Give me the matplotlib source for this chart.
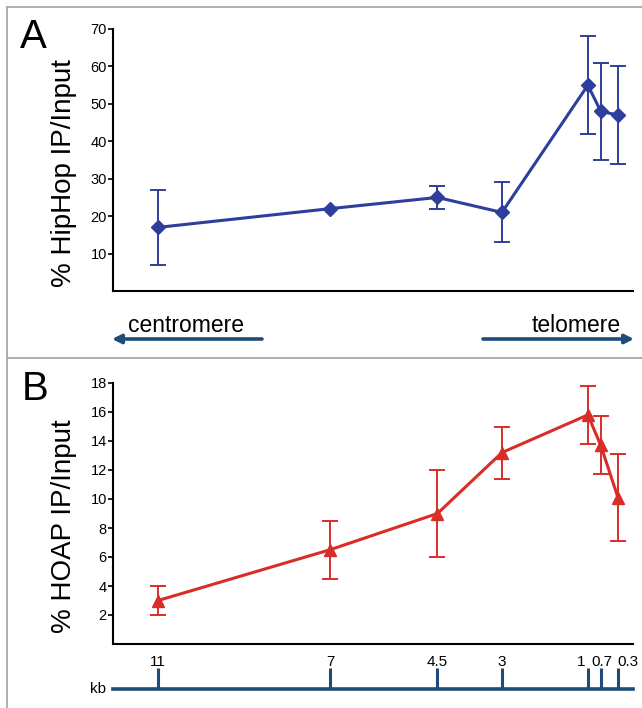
import numpy as np
import matplotlib
import matplotlib.pyplot as plt
from matplotlib.lines import Line2D
from matplotlib.patches import FancyArrowPatch

matplotlib.use("Agg")
plt.rcParams["font.family"] = ["Liberation Sans", "DejaVu Sans"]

# distance from telomere end (kb)
kb = [11, 7, 4.5, 3, 1, 0.7, 0.3]
kb_labels = ["11", "7", "4.5", "3", "1", "0.7", "0.3"]

# panel A: HipHop ChIP
hiphop = [17, 22, 25, 21, 55, 48, 47]
hiphop_err = [10, np.nan, 3, 8, 13, 13, 13]
hiphop_ticks = [10, 20, 30, 40, 50, 60, 70]

# panel B: HOAP ChIP
hoap = [3, 6.5, 9, 13.2, 15.8, 13.7, 10.1]
hoap_err = [1, 2, 3, 1.8, 2, 2, 3]
hoap_ticks = [2, 4, 6, 8, 10, 12, 14, 16, 18]

W, H = 642, 708
BLUE = "#2e3e9c"
RED = "#d92d28"
NAVY = "#1d4c78"
FRAME = "#a8a8a8"


def px(x0, y0, x1, y1):
    """pixel box (top-left origin) -> figure rect"""
    return [x0 / W, 1 - y1 / H, (x1 - x0) / W, (y1 - y0) / H]


def style_axes(ax, ymax, ticks):
    ax.set_xlim(12.05, -0.05)
    ax.set_ylim(0, ymax)
    ax.set_yticks(ticks)
    ax.set_xticks([])
    for s in ("top", "right"):
        ax.spines[s].set_visible(False)
    for s in ("left", "bottom"):
        ax.spines[s].set_linewidth(1.5)
    ax.tick_params(axis="y", length=3.5, width=1.2, labelsize=10.5, pad=1)
    ax.patch.set_alpha(0)


fig = plt.figure(figsize=(W / 100, H / 100), dpi=100)

# outer frame and separator between panels
for xs, ys in (([7, 642], [7, 7]), ([7, 7], [7, 708]), ([7, 642], [358, 358])):
    fig.add_artist(Line2D([x / W for x in xs], [1 - y / H for y in ys],
                          color=FRAME, lw=1.3))

# panel A
axA = fig.add_axes(px(113, 29, 633, 291))
axA.errorbar(kb, hiphop, yerr=hiphop_err, color=BLUE, lw=2.2, marker="D",
             ms=7.5, capsize=6, elinewidth=1.4, capthick=1.4)
style_axes(axA, 70, hiphop_ticks)
fig.text(33 / W, 1 - 37 / H, "A", fontsize=29, ha="center", va="center")
fig.text(64 / W, 1 - 173 / H, "% HipHop IP/Input", fontsize=20,
         rotation=90, ha="center", va="center")

# centromere / telomere arrows
arrow = dict(arrowstyle="-|>", color=NAVY, lw=2.6, mutation_scale=13,
             shrinkA=0, shrinkB=0)
fig.add_artist(FancyArrowPatch((262 / W, 1 - 339 / H), (112 / W, 1 - 339 / H),
                               transform=fig.transFigure, **arrow))
fig.add_artist(FancyArrowPatch((483 / W, 1 - 339 / H), (634 / W, 1 - 339 / H),
                               transform=fig.transFigure, **arrow))
fig.text(186 / W, 1 - 332 / H, "centromere", fontsize=16.5, ha="center",
         va="baseline")
fig.text(576 / W, 1 - 332 / H, "telomere", fontsize=16.5, ha="center",
         va="baseline")

# panel B
axB = fig.add_axes(px(113, 383, 633, 644))
axB.errorbar(kb, hoap, yerr=hoap_err, color=RED, lw=2.2, marker="^",
             ms=8.5, capsize=6, elinewidth=1.4, capthick=1.4)
style_axes(axB, 18, hoap_ticks)
fig.text(35 / W, 1 - 389 / H, "B", fontsize=29, ha="center", va="center")
fig.text(64 / W, 1 - 526 / H, "% HOAP IP/Input", fontsize=20,
         rotation=90, ha="center", va="center")

# kb scale bar
axK = fig.add_axes(px(113, 668, 633, 689))
axK.set_xlim(12.05, -0.05)
axK.set_ylim(0, 1)
axK.axis("off")
axK.axhline(0, color=NAVY, lw=2.6, clip_on=False)
axK.vlines(kb, 0, 1, color=NAVY, lw=2.2, clip_on=False)
# crowded labels near the telomere are nudged apart as in the original
label_align = ["center"] * 4 + ["right", "center", "left"]
label_nudge = [0, 0, 0, 0, -1.5, 0.5, -0.5]
for x, lab, ha, dx in zip(kb, kb_labels, label_align, label_nudge):
    axK.annotate(lab, (x, 1), xytext=(dx, 1.5), textcoords="offset points",
                 fontsize=11, ha=ha, va="baseline", annotation_clip=False)
fig.text(98 / W, 1 - 689 / H, "kb", fontsize=11, ha="center", va="center")

fig.savefig("out.png", dpi=100)
plt.close(fig)
